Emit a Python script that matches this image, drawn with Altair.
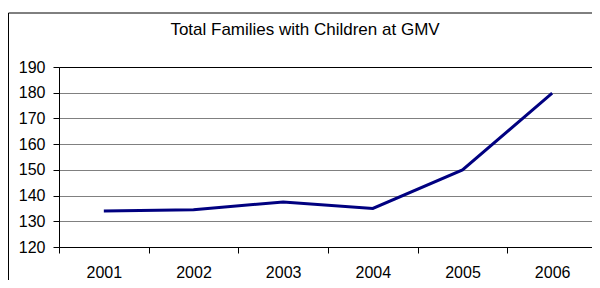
import altair as alt
import pandas as pd

years = ["2001", "2002", "2003", "2004", "2005", "2006"]
families = [134, 134.5, 137.5, 135, 150, 179.8]
y_ticks = [120, 130, 140, 150, 160, 170, 180, 190]
title_text = "Total Families with Children at GMV"

df = pd.DataFrame({"year": years, "families": families})
frame_df = pd.DataFrame({"k": [0]})

FONT = "Liberation Sans"

line = alt.Chart(df).mark_line(color="#000080", strokeWidth=3).encode(
    x=alt.X(
        "year:O",
        bandPosition=0.5,
        scale=alt.Scale(type="band", paddingInner=0, paddingOuter=0),
        axis=alt.Axis(
            title=None,
            tickBand="extent",
            labelAngle=0,
            labelPadding=11,
            grid=False,
        ),
    ),
    y=alt.Y(
        "families:Q",
        scale=alt.Scale(domain=[120, 190], nice=False, zero=False),
        axis=alt.Axis(
            title=None,
            values=y_ticks,
            labelPadding=8,
            grid=True,
            gridColor={"condition": {"test": "datum.value === 190", "value": "black"}, "value": "#808080"},
            gridWidth=1,
        ),
    ),
)

frame = alt.Chart(frame_df).mark_rect(filled=False, stroke="black", strokeWidth=1).encode(
    x=alt.value(-50.5), x2=alt.value(800), y=alt.value(-54), y2=alt.value(400)
)

chart = alt.layer(frame, line).properties(
    width=538,
    height=180,
    padding={"left": 51, "top": 59, "right": -5, "bottom": 33},
    autosize=alt.AutoSizeParams(type="none"),
    title=alt.TitleParams(
        text=title_text,
        anchor="middle",
        frame="group",
        dx=-23,
        offset=-39,
        baseline="alphabetic",
        font=FONT,
        fontSize=17,
        fontWeight="normal",
        color="black",
    ),
).configure_view(
    stroke="#808080", strokeWidth=1
).configure_axis(
    labelFont=FONT,
    labelFontSize=16,
    labelColor="black",
    domainColor="black",
    domainWidth=1,
    tickColor="black",
    tickSize=6,
    tickWidth=1,
)

chart.save("out.html", embed_options={"renderer": "svg", "actions": False})
